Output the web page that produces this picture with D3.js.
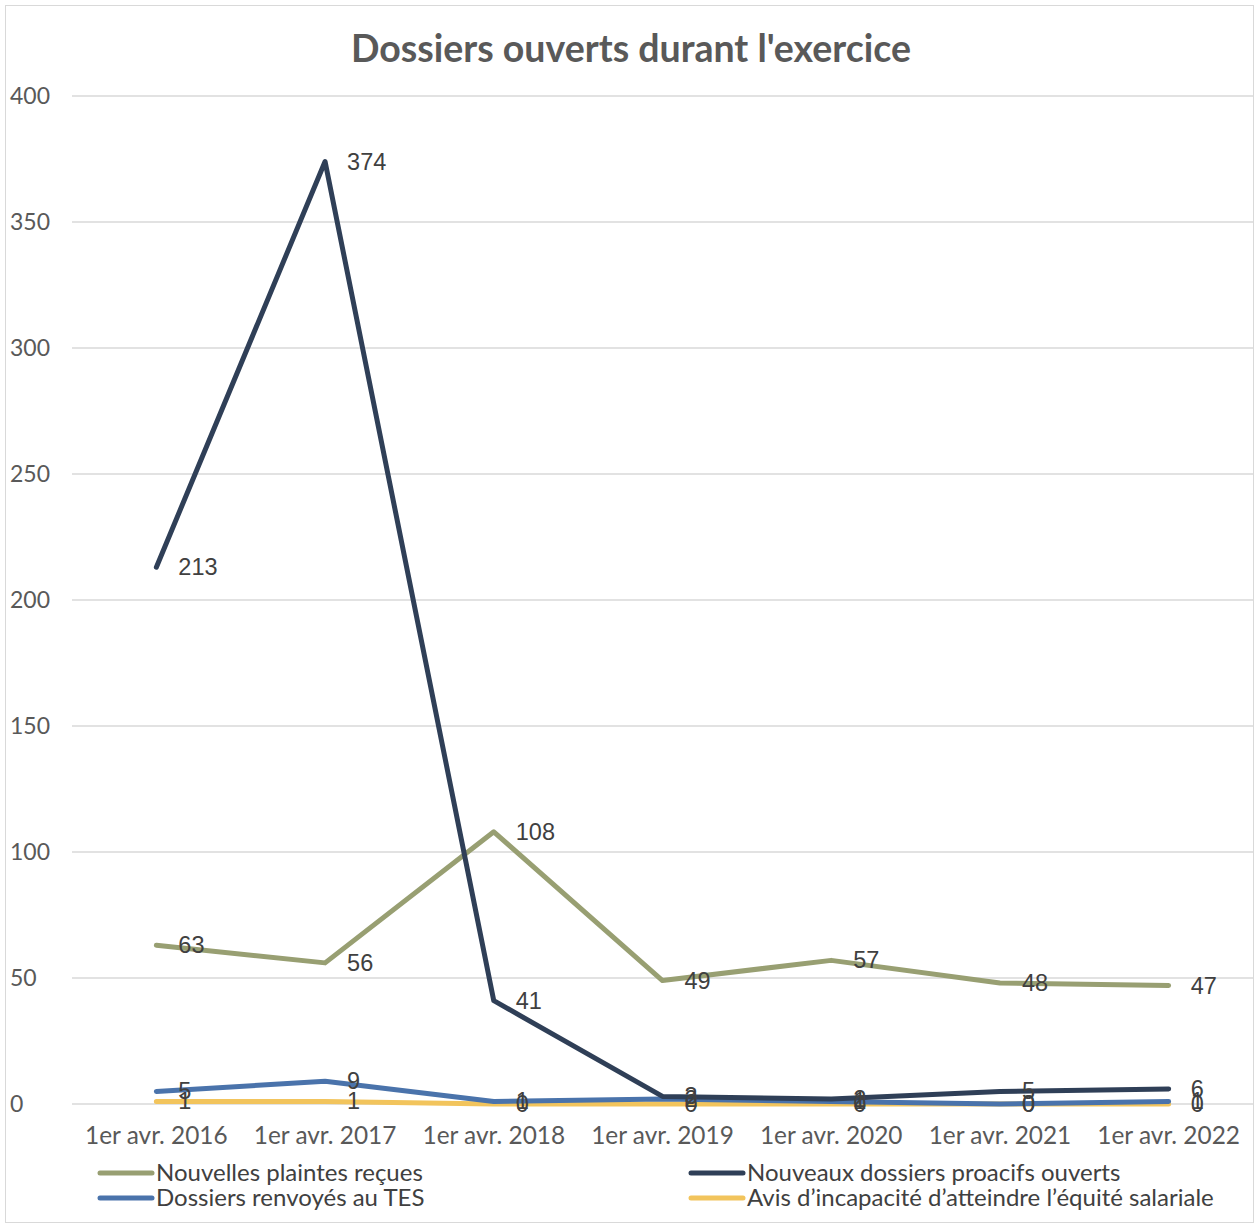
<!DOCTYPE html>
<html><head><meta charset="utf-8">
<script src="https://cdn.jsdelivr.net/npm/d3@7"></script>
<style>body{margin:0;background:#fff}</style>
</head><body>
<script>
const categories = ["1er avr. 2016","1er avr. 2017","1er avr. 2018","1er avr. 2019","1er avr. 2020","1er avr. 2021","1er avr. 2022"];
const plaintes = [63,56,108,49,57,48,47];
const proactifs = [213,374,41,3,2,5,6];
const renvoyes = [5,9,1,2,1,0,1];
const avis = [1,1,0,0,0,0,0];
const yTicks = [0,50,100,150,200,250,300,350,400];

const series = [
  {name:"Nouvelles plaintes reçues", values:plaintes, color:"#989f72"},
  {name:"Nouveaux dossiers proacifs ouverts", values:proactifs, color:"#2f3f57"},
  {name:"Dossiers renvoyés au TES", values:renvoyes, color:"#4a73ab"},
  {name:"Avis d’incapacité d’atteindre l’équité salariale", values:avis, color:"#f2c45c"}
];
const drawOrder = [0,3,2,1];

const W=1255,H=1226;
const svg = d3.select("body").append("svg").attr("width",W).attr("height",H);
svg.append("rect").attr("x",5.5).attr("y",5.5).attr("width",1248).attr("height",1217).attr("fill","#fff").attr("stroke","#d9d9d9");

const x = d3.scaleBand().domain(categories).range([72,1253]);
const y = d3.scaleLinear().domain([0,400]).range([1104,96]);

svg.append("text").attr("x",631).attr("y",62).attr("text-anchor","middle")
  .attr("font-family","Lato").attr("font-weight","bold").attr("font-size",37.5).attr("fill","#595959")
  .text("Dossiers ouverts durant l'exercice");

const grid = svg.append("g");
yTicks.forEach(t=>{
  grid.append("line").attr("x1",72).attr("x2",1253).attr("y1",y(t)).attr("y2",y(t))
    .attr("stroke","#d9d9d9").attr("stroke-width",1.3);
  grid.append("text").attr("x",10).attr("y",y(t)+8).attr("font-family","Lato").attr("font-size",23)
    .attr("fill","#595959").text(t);
});

const xAxis = svg.append("g");
categories.forEach(c=>{
  xAxis.append("text").attr("x",x(c)+x.bandwidth()/2).attr("y",1144).attr("text-anchor","middle")
    .attr("font-family","Lato").attr("font-size",24.4).attr("fill","#595959").text(c);
});

const line = d3.line().x((d,i)=>x(categories[i])+x.bandwidth()/2).y(d=>y(d));
drawOrder.forEach(k=>{
  const s=series[k];
  svg.append("path").attr("d",line(s.values)).attr("fill","none").attr("stroke",s.color)
    .attr("stroke-width",5).attr("stroke-linejoin","round").attr("stroke-linecap","round");
});
series.forEach(s=>{
  s.values.forEach((v,i)=>{
    svg.append("text").attr("x",x(categories[i])+x.bandwidth()/2+22).attr("y",y(v)+8)
      .attr("font-family","Liberation Sans, Arial").attr("font-size",23.5).attr("fill","#404040").text(v);
  });
});

const legend = [
  {k:0,x:97,y:1173},{k:1,x:688,y:1173},{k:2,x:97,y:1198},{k:3,x:688,y:1198}
];
legend.forEach(l=>{
  const s=series[l.k];
  svg.append("line").attr("x1",l.x+3).attr("x2",l.x+55).attr("y1",l.y).attr("y2",l.y)
    .attr("stroke",s.color).attr("stroke-width",5).attr("stroke-linecap","round");
  svg.append("text").attr("x",l.x+59).attr("y",l.y+8).attr("font-family","Lato").attr("font-size",24)
    .attr("fill","#404040").text(s.name);
});
</script>
</body></html>
